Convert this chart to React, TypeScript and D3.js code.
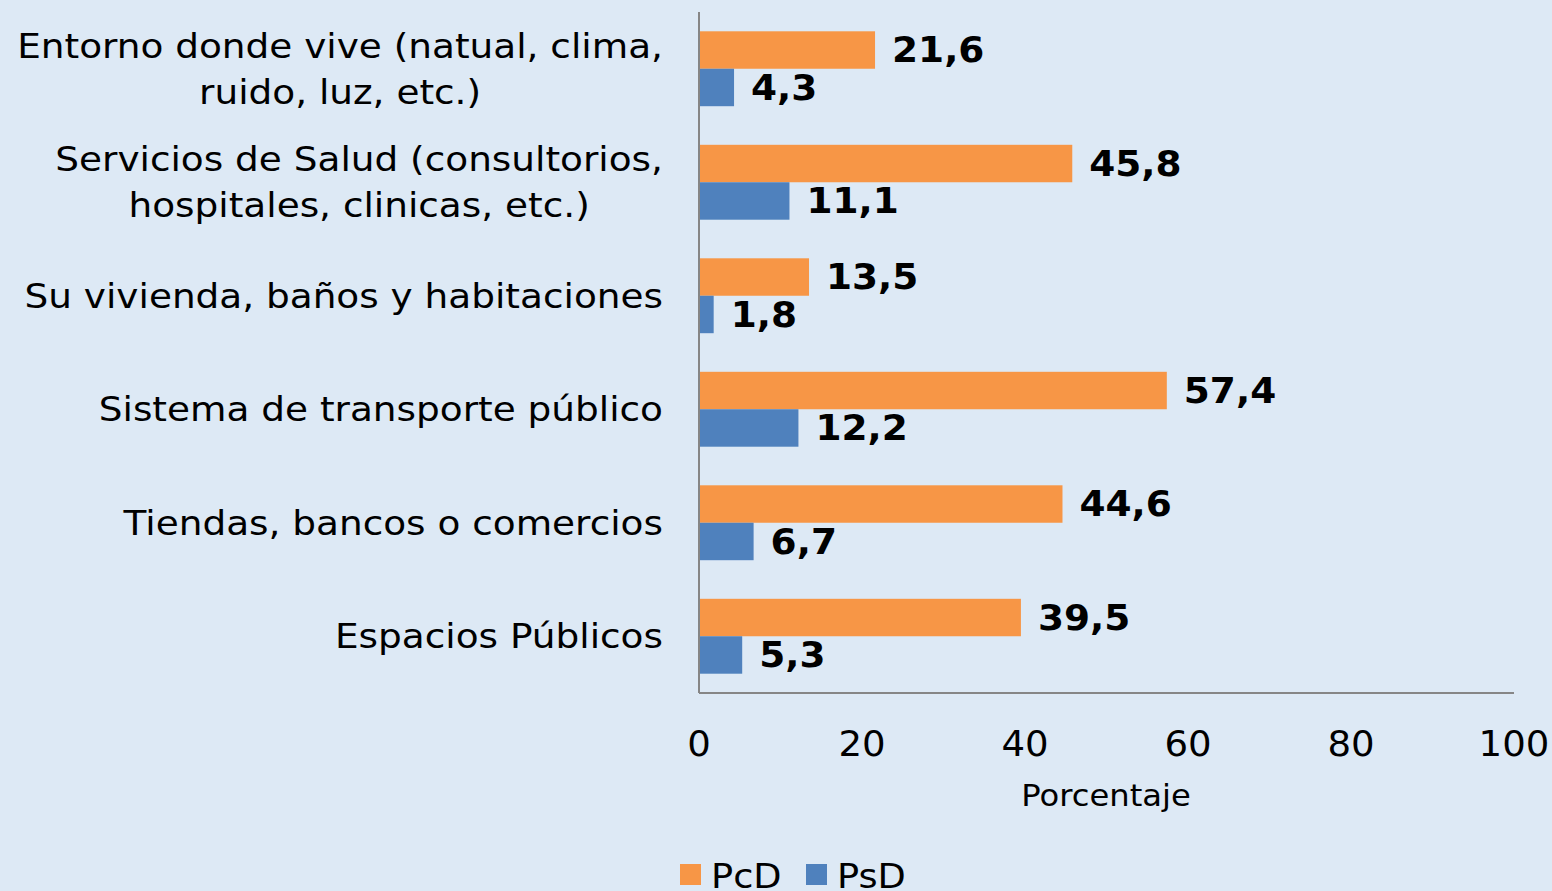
import React from "react";
import * as d3 from "d3";

const categories: string[][] = [
  ["Entorno donde vive (natual, clima,", "ruido, luz, etc.)"],
  ["Servicios de Salud (consultorios,", "hospitales, clinicas, etc.)"],
  ["Su vivienda, baños y habitaciones"],
  ["Sistema de transporte público"],
  ["Tiendas, bancos o comercios"],
  ["Espacios Públicos"],
];
const pcd = [21.6, 45.8, 13.5, 57.4, 44.6, 39.5];
const psd = [4.3, 11.1, 1.8, 12.2, 6.7, 5.3];
const xTicks = [0, 20, 40, 60, 80, 100];
const seriesNames = ["PcD", "PsD"];
const colors = ["#F79646", "#4F81BD"];

const W = 1552;
const H = 891;
const FONT = "Verdana, 'DejaVu Sans', sans-serif";
const CAT_SIZE = 34;
const CAT_SX = 1.1;

let ctx: CanvasRenderingContext2D | null = null;
function measure(text: string, size: number): number {
  if (!ctx) {
    const c = document.createElement("canvas");
    ctx = c.getContext("2d");
  }
  if (!ctx) return text.length * size * 0.55;
  ctx.font = `${size}px Verdana, "DejaVu Sans", sans-serif`;
  return ctx.measureText(text).width;
}

function SText(props: {
  x: number;
  y: number;
  sx: number;
  anchor?: "start" | "middle" | "end";
  size: number;
  bold?: boolean;
  children: React.ReactNode;
}) {
  return (
    <g transform={`translate(${props.x},${props.y}) scale(${props.sx},1)`}>
      <text
        x={0}
        y={0}
        dy="0.35em"
        textAnchor={props.anchor || "start"}
        fontFamily={FONT}
        fontSize={props.size}
        fontWeight={props.bold ? "bold" : "normal"}
        fill="#000"
      >
        {props.children}
      </text>
    </g>
  );
}

export default function App() {
  const x = d3.scaleLinear().domain([0, 100]).range([699, 1514]);
  const y = d3
    .scaleBand<number>()
    .domain(d3.range(categories.length))
    .range([12, 693])
    .paddingInner(0.34)
    .paddingOuter(0.17);
  const sub = d3.scaleBand<number>().domain([0, 1]).range([0, y.bandwidth()]);
  const fmt = (v: number) => v.toFixed(1).replace(".", ",");
  const series = [pcd, psd];
  const labelRight = 663;

  return (
    <div style={{ position: "absolute", left: 0, top: 0 }}>
      <svg width={W} height={H} style={{ display: "block", background: "#DDE9F5" }}>
        <rect x={0} y={0} width={W} height={H} fill="#DDE9F5" />
        {categories.map((lines, i) => {
          const cy = (y(i) as number) + y.bandwidth() / 2;
          const lh = 46;
          const start = cy - ((lines.length - 1) * lh) / 2;
          const maxW = Math.max(...lines.map((l) => measure(l, CAT_SIZE))) * CAT_SX;
          const cx = labelRight - maxW / 2;
          return (
            <g key={"c" + i}>
              {lines.map((l, j) => (
                <SText key={j} x={cx} y={start + j * lh} sx={CAT_SX} size={CAT_SIZE} anchor="middle">
                  {l}
                </SText>
              ))}
            </g>
          );
        })}
        {series.map((vals, s) =>
          vals.map((v, i) => {
            const by = (y(i) as number) + (sub(s) as number);
            return (
              <g key={s + "-" + i}>
                <rect
                  x={x(0)}
                  y={by}
                  width={x(v) - x(0)}
                  height={sub.bandwidth()}
                  fill={colors[s]}
                />
                <SText x={x(v) + 17} y={by + sub.bandwidth() / 2} sx={1.07} size={35} bold>
                  {fmt(v)}
                </SText>
              </g>
            );
          })
        )}
        <line x1={699} x2={699} y1={12} y2={693} stroke="#868686" strokeWidth={2} />
        <line x1={699} x2={1514} y1={693} y2={693} stroke="#868686" strokeWidth={2} />
        {xTicks.map((t) => (
          <SText key={"t" + t} x={x(t)} y={744} sx={1.06} size={35} anchor="middle">
            {t}
          </SText>
        ))}
        <SText x={1106} y={795} sx={1.074} size={30} anchor="middle">
          Porcentaje
        </SText>
        {seriesNames.map((n, s) => (
          <g key={"l" + s}>
            <rect x={680 + s * 126} y={864} width={21} height={21} fill={colors[s]} />
            <SText x={711 + s * 126} y={876} sx={1.08} size={34}>
              {n}
            </SText>
          </g>
        ))}
      </svg>
    </div>
  );
}
